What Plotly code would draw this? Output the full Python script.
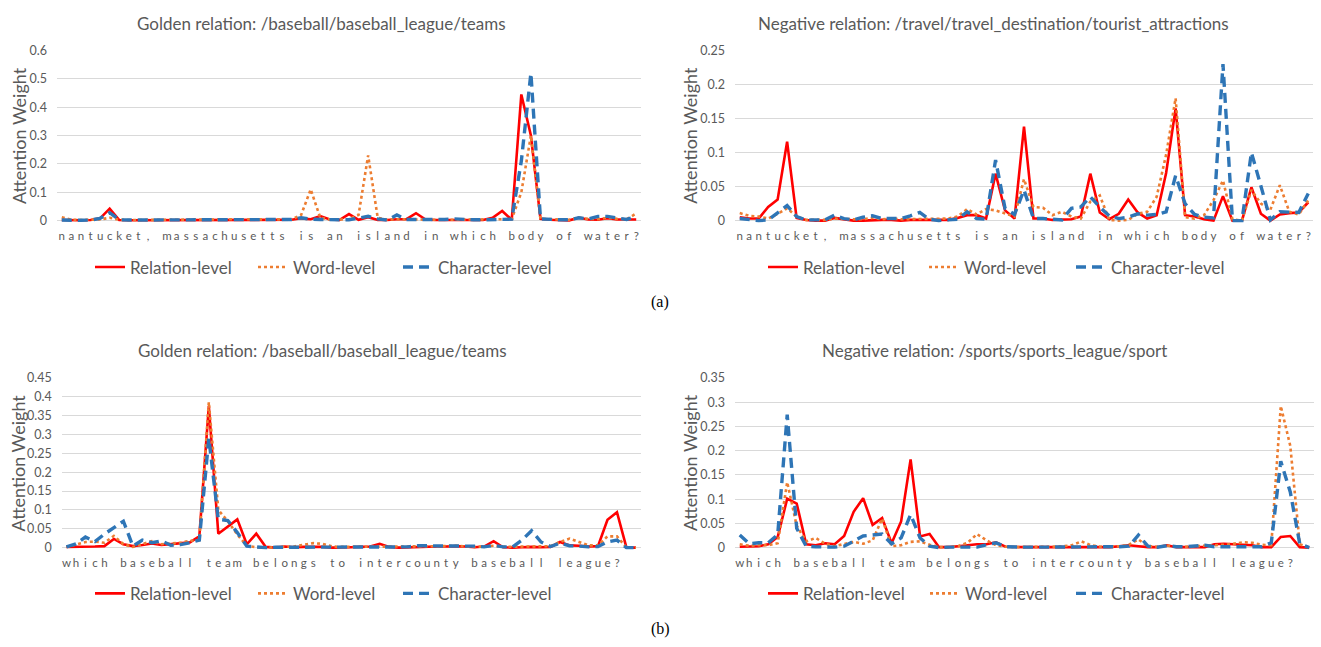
import plotly.graph_objects as go

# ---------------- data ----------------
sentence_a = "nantucket, massachusetts is an island in which body of water?"
sentence_b = "which baseball team belongs to intercounty baseball league?"

labels_a = list(sentence_a)
labels_b = list(sentence_b) + ["", ""]   # two padding positions

series_names = ["Relation-level", "Word-level", "Character-level"]

titles = [
    "Golden relation: /baseball/baseball_league/teams",
    "Negative relation: /travel/travel_destination/tourist_attractions",
    "Golden relation: /baseball/baseball_league/teams",
    "Negative relation: /sports/sports_league/sport",
]

# Panel 1 (a, golden)
rel1 = [0.002,0.001,0.001,0.002,0.008,0.042,0.002,0.001,0.001,0.001,
        0.001,0.001,0.001,0.001,0.001,0.001,0.001,0.001,0.001,0.001,
        0.001,0.001,0.001,0.002,0.003,0.008,0.005,0.016,0.004,0.002,
        0.023,0.003,0.012,0.002,0.002,0.005,0.005,0.026,0.004,0.002,
        0.002,0.002,0.002,0.002,0.002,0.010,0.034,0.003,0.445,0.300,
        0.006,0.003,0.001,0.001,0.010,0.004,0.003,0.008,0.004,0.003,
        0.004]
word1 = [0.012,0.003,0.002,0.002,0.004,0.010,0.003,0.002,0.002,0.002,
         0.002,0.002,0.002,0.002,0.002,0.002,0.004,0.005,0.005,0.004,
         0.003,0.003,0.003,0.003,0.004,0.020,0.110,0.010,0.004,0.004,
         0.005,0.020,0.230,0.010,0.003,0.005,0.004,0.003,0.003,0.003,
         0.003,0.003,0.003,0.003,0.003,0.003,0.005,0.005,0.100,0.300,
         0.006,0.004,0.004,0.003,0.010,0.006,0.005,0.010,0.006,0.005,
         0.025]
char1 = [0.002,0.001,0.001,0.002,0.008,0.028,0.003,0.002,0.002,0.002,
         0.002,0.002,0.002,0.002,0.002,0.002,0.002,0.002,0.002,0.002,
         0.002,0.004,0.003,0.002,0.004,0.010,0.005,0.004,0.002,0.003,
         0.003,0.008,0.015,0.006,0.002,0.020,0.004,0.004,0.003,0.003,
         0.004,0.006,0.004,0.003,0.003,0.003,0.003,0.005,0.210,0.520,
         0.006,0.004,0.003,0.003,0.010,0.006,0.015,0.015,0.008,0.004,
         0.015]

# Panel 2 (a, negative)
rel2 = [0.005,0.003,0.003,0.020,0.031,0.116,0.004,0.001,0.000,0.000,
        0.004,0.002,0.000,0.000,0.001,0.001,0.001,0.000,0.001,0.001,
        0.000,0.000,0.001,0.004,0.008,0.008,0.003,0.069,0.015,0.003,
        0.138,0.003,0.003,0.001,0.001,0.002,0.006,0.069,0.012,0.002,
        0.010,0.031,0.012,0.003,0.008,0.070,0.165,0.008,0.006,0.002,
        0.000,0.036,0.000,0.000,0.049,0.010,0.000,0.009,0.011,0.012,
        0.027]
word2 = [0.011,0.007,0.006,0.003,0.010,0.018,0.006,0.001,0.001,0.001,
         0.003,0.002,0.002,0.002,0.004,0.002,0.003,0.002,0.002,0.002,
         0.002,0.002,0.003,0.006,0.017,0.009,0.017,0.015,0.010,0.006,
         0.061,0.020,0.019,0.008,0.013,0.006,0.003,0.028,0.037,0.001,
         0.000,0.001,0.010,0.013,0.035,0.097,0.180,0.005,0.003,0.008,
         0.030,0.059,0.002,0.000,0.045,0.025,0.016,0.052,0.013,0.009,
         0.030]
char2 = [0.003,0.001,0.000,0.001,0.012,0.022,0.006,0.001,0.001,0.001,
         0.008,0.003,0.001,0.005,0.007,0.003,0.003,0.003,0.007,0.012,
         0.002,0.000,0.001,0.002,0.013,0.003,0.002,0.089,0.018,0.009,
         0.045,0.003,0.003,0.002,0.001,0.018,0.020,0.035,0.020,0.007,
         0.003,0.005,0.010,0.008,0.009,0.013,0.066,0.025,0.009,0.005,
         0.004,0.230,0.000,0.000,0.100,0.051,0.001,0.013,0.012,0.012,
         0.040]

# Panel 3 (b, golden)
rel3 = [0.002,0.002,0.001,0.003,0.004,0.023,0.009,0.004,0.007,0.011,
        0.007,0.009,0.013,0.014,0.030,0.375,0.037,0.056,0.075,0.009,
        0.037,0.002,0.000,0.003,0.001,0.002,0.002,0.002,0.000,0.000,
        0.001,0.002,0.003,0.010,0.002,0.000,0.001,0.001,0.002,0.003,
        0.003,0.004,0.003,0.001,0.003,0.017,0.001,0.000,0.001,0.002,
        0.001,0.002,0.015,0.006,0.005,0.003,0.004,0.074,0.094,0.000,
        0.000]
word3 = [0.002,0.008,0.015,0.016,0.013,0.031,0.009,0.002,0.010,0.017,
         0.009,0.010,0.013,0.018,0.020,0.386,0.100,0.070,0.035,0.005,
         0.001,0.000,0.001,0.002,0.003,0.008,0.012,0.010,0.003,0.002,
         0.002,0.002,0.002,0.003,0.002,0.002,0.002,0.003,0.003,0.004,
         0.004,0.005,0.003,0.002,0.003,0.005,0.002,0.002,0.002,0.003,
         0.003,0.004,0.015,0.024,0.015,0.006,0.006,0.030,0.030,0.000,
         0.000]
char3 = [0.002,0.010,0.028,0.016,0.036,0.053,0.070,0.004,0.020,0.013,
         0.018,0.006,0.008,0.013,0.020,0.290,0.075,0.072,0.040,0.004,
         0.001,0.000,0.001,0.001,0.001,0.002,0.002,0.002,0.002,0.002,
         0.002,0.002,0.003,0.003,0.002,0.002,0.002,0.005,0.005,0.005,
         0.004,0.006,0.006,0.004,0.002,0.006,0.002,0.002,0.020,0.045,
         0.015,0.003,0.012,0.005,0.004,0.002,0.003,0.015,0.020,0.000,
         0.000]

# Panel 4 (b, negative)
rel4 = [0.002,0.002,0.003,0.007,0.022,0.101,0.091,0.007,0.005,0.009,
        0.007,0.024,0.074,0.102,0.047,0.061,0.009,0.054,0.182,0.023,
        0.028,0.001,0.001,0.003,0.005,0.007,0.007,0.011,0.002,0.001,
        0.001,0.001,0.001,0.002,0.001,0.001,0.001,0.002,0.001,0.001,
        0.003,0.005,0.003,0.001,0.001,0.005,0.001,0.001,0.001,0.001,
        0.007,0.008,0.007,0.006,0.005,0.001,0.001,0.022,0.024,0.001,
        0.000]
word4 = [0.007,0.004,0.005,0.005,0.009,0.135,0.045,0.013,0.020,0.008,
         0.003,0.007,0.012,0.008,0.015,0.060,0.003,0.005,0.012,0.013,
         0.006,0.001,0.001,0.003,0.010,0.028,0.015,0.005,0.002,0.001,
         0.001,0.001,0.002,0.002,0.003,0.005,0.013,0.005,0.002,0.002,
         0.003,0.006,0.017,0.003,0.002,0.004,0.002,0.002,0.003,0.004,
         0.004,0.006,0.008,0.011,0.010,0.006,0.005,0.292,0.210,0.007,
         0.000]
char4 = [0.026,0.008,0.010,0.010,0.027,0.274,0.040,0.003,0.002,0.001,
         0.001,0.003,0.013,0.024,0.026,0.028,0.008,0.020,0.068,0.020,
         0.003,0.000,0.001,0.001,0.001,0.001,0.006,0.010,0.002,0.001,
         0.001,0.001,0.001,0.002,0.001,0.001,0.002,0.002,0.001,0.001,
         0.002,0.003,0.026,0.003,0.001,0.004,0.002,0.002,0.004,0.005,
         0.002,0.002,0.003,0.002,0.002,0.002,0.010,0.178,0.115,0.008,
         0.000]

# ---------------- layout helpers ----------------
W, H = 1321, 647
GRAY = "#595959"
GRID = "#d9d9d9"
FONT = "Lato"
COLORS = ["#ff0000", "#ed7d31", "#2e75b6"]
DASHES = ["solid", "3px,3px", "10px,6px"]
WIDTHS = [2.6, 2.6, 3.4]

def fx(p):
    return p / W

def fy(p):
    return 1 - p / H

panels = [
    dict(labels=labels_a, data=[rel1, word1, char1], title=titles[0],
         x0=57, x1=641, ytop=44.3, ybot=217.3, ymax=0.6, dtick=0.1,
         title_xy=(321.5, 16.5), ylab_xy=(18.3, 131),
         leg_x=(95, 258, 403), leg_y=265),
    dict(labels=labels_a, data=[rel2, word2, char2], title=titles[1],
         x0=735, x1=1313, ytop=44.3, ybot=217.3, ymax=0.25, dtick=0.05,
         title_xy=(993.5, 16.5), ylab_xy=(690, 131),
         leg_x=(768, 929, 1076), leg_y=265),
    dict(labels=labels_b, data=[rel3, word3, char3], title=titles[2],
         x0=61.7, x1=640.7, ytop=377.3, ybot=550, ymax=0.45, dtick=0.05,
         title_xy=(322, 349.3), ylab_xy=(18.3, 464),
         leg_x=(95, 258, 403), leg_y=597),
    dict(labels=labels_b, data=[rel4, word4, char4], title=titles[3],
         x0=735, x1=1314, ytop=377.3, ybot=550, ymax=0.35, dtick=0.05,
         title_xy=(994, 349.3), ylab_xy=(690, 464),
         leg_x=(768, 930, 1076), leg_y=597),
]

fig = go.Figure()
annotations = []
layout = {}
PAD_B, PAD_T = 3.0, 1.0
leg_count = 0

for k, p in enumerate(panels):
    n = k + 1
    xa = "x" if n == 1 else f"x{n}"
    ya = "y" if n == 1 else f"y{n}"
    dpp = p["ymax"] / (p["ybot"] - p["ytop"])
    lo = -PAD_B * dpp
    hi = p["ymax"] + PAD_T * dpp
    xs = list(range(len(p["labels"])))
    for s, name in enumerate(series_names):
        leg_count += 1
        leg = "legend" if leg_count == 1 else f"legend{leg_count}"
        fig.add_trace(go.Scatter(
            x=xs, y=p["data"][s], mode="lines", name=name,
            line=dict(color=COLORS[s], width=WIDTHS[s], dash=DASHES[s]),
            xaxis=xa, yaxis=ya, legend=leg, showlegend=True,
            hoverinfo="skip"))
        layout[leg] = dict(
            orientation="h", x=fx(p["leg_x"][s] - 5), y=fy(p["leg_y"]),
            xanchor="left", yanchor="middle", xref="paper", yref="paper",
            font=dict(family=FONT, size=17, color=GRAY),
            bgcolor="rgba(0,0,0,0)", borderwidth=0,
            itemclick=False, itemdoubleclick=False)
    layout["xaxis" if n == 1 else f"xaxis{n}"] = dict(
        domain=[fx(p["x0"]), fx(p["x1"])], anchor=ya,
        range=[-0.5, len(xs) - 0.5], tickmode="array", tickvals=xs,
        ticktext=p["labels"], tickangle=0, showgrid=False, zeroline=False,
        showline=False, ticks="", ticklabelstandoff=4,
        ticklabeloverflow="allow",
        tickfont=dict(family=FONT, size=11.5, color=GRAY), fixedrange=True)
    layout["yaxis" if n == 1 else f"yaxis{n}"] = dict(
        domain=[fy(p["ybot"] + PAD_B), fy(p["ytop"] - PAD_T)], anchor=xa,
        range=[lo, hi], tick0=0, dtick=p["dtick"], showgrid=True,
        gridcolor=GRID, gridwidth=1, zeroline=False, showline=False,
        ticks="", ticklabelstandoff=9,
        tickfont=dict(family=FONT, size=12.5, color=GRAY), fixedrange=True)
    annotations.append(dict(
        text=p["title"], x=fx(p["title_xy"][0]), y=fy(p["title_xy"][1]),
        xref="paper", yref="paper", showarrow=False, xanchor="center",
        yanchor="middle", font=dict(family=FONT, size=17, color=GRAY)))
    annotations.append(dict(
        text="Attention Weight", x=fx(p["ylab_xy"][0]), y=fy(p["ylab_xy"][1]),
        xref="paper", yref="paper", showarrow=False, xanchor="center",
        yanchor="middle", textangle=-90,
        font=dict(family=FONT, size=18, color=GRAY)))

for lab, ypix in (("(a)", 300), ("(b)", 633)):
    annotations.append(dict(
        text=lab, x=fx(660), y=fy(ypix), xref="paper", yref="paper",
        showarrow=False, xanchor="center", yanchor="middle",
        font=dict(family="Liberation Serif", size=16, color="#000000")))

fig.update_layout(
    width=W, height=H, margin=dict(l=0, r=0, t=0, b=0, pad=0),
    paper_bgcolor="white", plot_bgcolor="white",
    annotations=annotations, **layout)

fig.write_html(
    "out.html", config={"displayModeBar": False},
    post_script="document.body.style.margin='0';"
                "document.body.style.overflow='hidden';")
